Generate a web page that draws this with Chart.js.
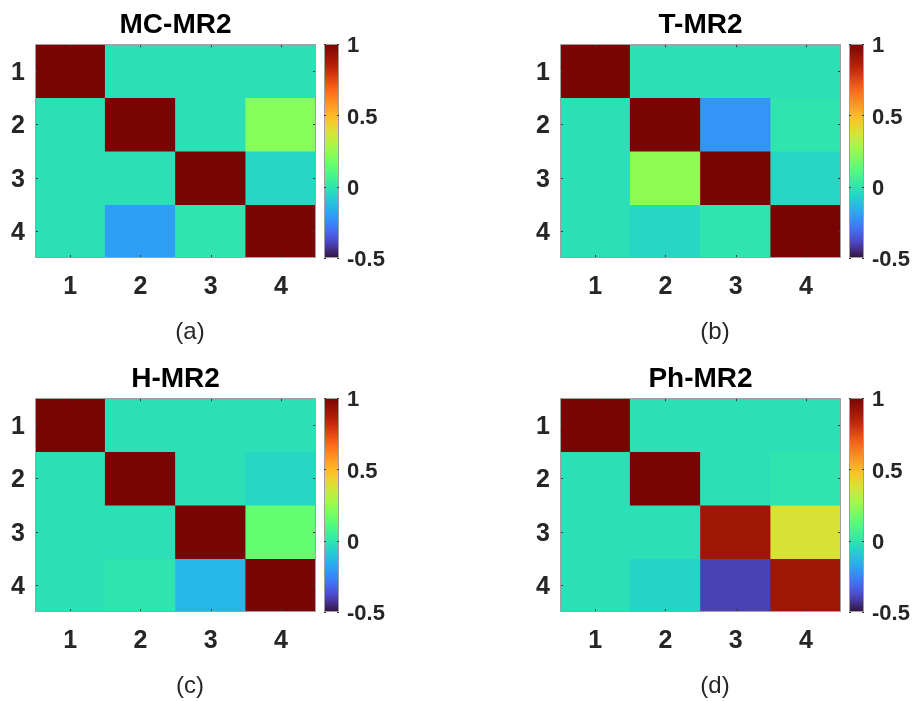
<!DOCTYPE html>
<html>
<head>
<meta charset="utf-8">
<script src="https://cdn.jsdelivr.net/npm/chart.js@4.4.0/dist/chart.umd.min.js"></script>
<style>
html, body { margin: 0; padding: 0; background: #fff; }
#wrap { position: relative; width: 920px; height: 701px; overflow: hidden; }
.panel { position: absolute; width: 395px; height: 347px; }
.cap { position: absolute; width: 120px; margin-left: -60px; text-align: center;
       font: 24px 'Liberation Sans', Arial, sans-serif; line-height: 28px; color: #262626; }
</style>
</head>
<body>
<div id="wrap"></div>
<script>
// Data
const colLabels = ['1', '2', '3', '4'];
const rowLabels = [1, 2, 3, 4];
const cbTicks = [-0.5, 0, 0.5, 1];
const cMin = -0.5;
const cMax = 1;

const titles = ['MC-MR2', 'T-MR2', 'H-MR2', 'Ph-MR2'];
const captions = ['(a)', '(b)', '(c)', '(d)'];

const mcMr2 = [
    [1, -0.02, -0.02, -0.02],
    [-0.02, 1, -0.02, 0.22],
    [-0.02, -0.02, 1, -0.05],
    [-0.02, -0.2, 0.0, 1]
];
const tMr2 = [
    [1, -0.02, -0.02, -0.02],
    [-0.02, 1, -0.22, 0.0],
    [-0.02, 0.23, 1, -0.05],
    [-0.02, -0.05, 0.0, 1]
];
const hMr2 = [
    [1, -0.02, -0.02, -0.02],
    [-0.02, 1, -0.02, -0.05],
    [-0.02, -0.02, 1, 0.15],
    [-0.02, 0.0, -0.14, 1]
];
const phMr2 = [
    [1, -0.02, -0.02, -0.02],
    [-0.02, 1, -0.02, 0.0],
    [-0.02, -0.02, 0.91, 0.38],
    [-0.02, -0.06, -0.4, 0.91]
];
const matrices = [mcMr2, tMr2, hMr2, phMr2];

// Layout of the four subplots (canvas top-left corners)
const panelPos = [
    { left: 0, top: 0 },
    { left: 525, top: 0 },
    { left: 0, top: 354 },
    { left: 525, top: 354 }
];

const FONT = "'Liberation Sans', Arial, sans-serif";

// turbo colormap (polynomial approx, ends pulled to the real end colours)
function turboPoly(t) {
    const r = 0.13572138 + t * (4.61539260 + t * (-42.66032258 + t * (132.13108234 + t * (-152.94239396 + t * 59.28637943))));
    const g = 0.09140261 + t * (2.19418839 + t * (4.84296658 + t * (-14.18503333 + t * (4.27729857 + t * 2.82956604))));
    const b = 0.10667330 + t * (12.64194608 + t * (-60.58204836 + t * (110.36276771 + t * (-89.90310912 + t * 27.34824973))));
    return [r * 255, g * 255, b * 255];
}
function turbo(t) {
    t = Math.max(0, Math.min(1, t));
    let c;
    if (t > 0.9) {
        const a = turboPoly(0.9), e = [122, 4, 3], f = (t - 0.9) / 0.1;
        c = a.map((v, i) => v + (e[i] - v) * f);
    } else if (t < 0.04) {
        const a = turboPoly(0.04), e = [48, 18, 59], f = (0.04 - t) / 0.04;
        c = a.map((v, i) => v + (e[i] - v) * f);
    } else {
        c = turboPoly(t);
    }
    c = c.map(v => Math.round(Math.max(0, Math.min(255, v))));
    return `rgb(${c[0]},${c[1]},${c[2]})`;
}
function valueColor(v) {
    return turbo((v - cMin) / (cMax - cMin));
}

// box, inner ticks and the colorbar
const framePlugin = {
    id: 'frame',
    afterDatasetsDraw(chart) {
        const { ctx, chartArea: a, scales } = chart;
        ctx.save();
        ctx.lineWidth = 1;

        ctx.strokeStyle = '#3a3a3a';
        ctx.beginPath();
        colLabels.forEach((c, i) => {
            const x = Math.round(scales.x.getPixelForValue(i)) + 0.5;
            ctx.moveTo(x, a.bottom); ctx.lineTo(x, a.bottom - 3);
            ctx.moveTo(x, a.top); ctx.lineTo(x, a.top + 3);
        });
        rowLabels.forEach(r => {
            const y = Math.round(scales.y.getPixelForValue(r)) + 0.5;
            ctx.moveTo(a.left, y); ctx.lineTo(a.left + 3, y);
            ctx.moveTo(a.right, y); ctx.lineTo(a.right - 3, y);
        });
        ctx.stroke();

        ctx.strokeStyle = '#a0a0a0';
        ctx.strokeRect(Math.round(a.left) + 0.5, Math.round(a.top) + 0.5,
            Math.round(a.right - a.left) - 1, Math.round(a.bottom - a.top) - 1);

        // colorbar
        const cb = scales.cb;
        const top = Math.round(cb.getPixelForValue(cMax));
        const bot = Math.round(cb.getPixelForValue(cMin));
        const x0 = Math.round(a.right) + 8;
        const w = 15;
        const grad = ctx.createLinearGradient(0, bot, 0, top);
        for (let k = 0; k <= 100; k++) grad.addColorStop(k / 100, turbo(k / 100));
        ctx.fillStyle = grad;
        ctx.fillRect(x0, top, w, bot - top);
        ctx.strokeStyle = '#a0a0a0';
        ctx.strokeRect(x0 + 0.5, top + 0.5, w - 1, bot - top - 1);
        ctx.strokeStyle = '#3a3a3a';
        ctx.beginPath();
        cbTicks.forEach(v => {
            const y = Math.round(cb.getPixelForValue(v)) + 0.5;
            ctx.moveTo(x0, y); ctx.lineTo(x0 + 2, y);
            ctx.moveTo(x0 + w, y); ctx.lineTo(x0 + w - 2, y);
        });
        ctx.stroke();
        ctx.restore();
    }
};

function makePanel(idx) {
    const pos = panelPos[idx];
    const wrap = document.getElementById('wrap');
    const holder = document.createElement('div');
    holder.className = 'panel';
    holder.style.left = pos.left + 'px';
    holder.style.top = pos.top + 'px';
    const canvas = document.createElement('canvas');
    canvas.width = 395;
    canvas.height = 347;
    holder.appendChild(canvas);
    wrap.appendChild(holder);

    const cap = document.createElement('div');
    cap.className = 'cap';
    cap.textContent = captions[idx];
    cap.style.left = (pos.left + 190) + 'px';
    cap.style.top = (pos.top + 317) + 'px';
    wrap.appendChild(cap);

    const matrix = matrices[idx];
    const datasets = rowLabels.map((r, i) => ({
        label: 'Row ' + r,
        data: colLabels.map(() => [r - 0.5, r + 0.5]),
        backgroundColor: matrix[i].map(valueColor),
        borderWidth: 0,
        grouped: false,
        barPercentage: 1,
        categoryPercentage: 1,
        yAxisID: 'y'
    }));

    const tickFont = { family: FONT, size: 25, weight: 'bold' };

    new Chart(canvas.getContext('2d'), {
        type: 'bar',
        data: { labels: colLabels, datasets },
        options: {
            responsive: false,
            animation: false,
            layout: { padding: 0 },
            plugins: {
                legend: { display: false },
                tooltip: { enabled: false },
                title: {
                    display: true,
                    text: titles[idx],
                    fullSize: false,
                    color: '#000',
                    font: { family: FONT, size: 28, weight: 'bold' },
                    padding: { top: 5, bottom: 2 }
                }
            },
            scales: {
                x: {
                    offset: true,
                    grid: { display: false, drawTicks: false },
                    border: { display: false },
                    ticks: { color: '#262626', font: tickFont, padding: 14, maxRotation: 0, autoSkip: false },
                    afterFit: s => { s.height = 89; }
                },
                y: {
                    type: 'linear',
                    position: 'left',
                    reverse: true,
                    min: 0.5,
                    max: 4.5,
                    grid: { display: false, drawTicks: false },
                    border: { display: false },
                    afterBuildTicks: s => { s.ticks = rowLabels.map(v => ({ value: v })); },
                    ticks: { color: '#262626', font: tickFont, padding: 10, labelOffset: 2, autoSkip: false, callback: v => String(v) },
                    afterFit: s => { s.width = 35; }
                },
                cb: {
                    type: 'linear',
                    position: 'right',
                    min: cMin,
                    max: cMax,
                    grid: { display: false, drawTicks: false },
                    border: { display: false },
                    afterBuildTicks: s => { s.ticks = cbTicks.map(v => ({ value: v })); },
                    ticks: { color: '#262626', font: { family: FONT, size: 22, weight: 'bold' }, padding: 31, labelOffset: 2, autoSkip: false, callback: v => String(v) },
                    afterFit: s => { s.width = 79; }
                }
            }
        },
        plugins: [framePlugin]
    });
}

titles.forEach((t, i) => makePanel(i));
</script>
</body>
</html>
